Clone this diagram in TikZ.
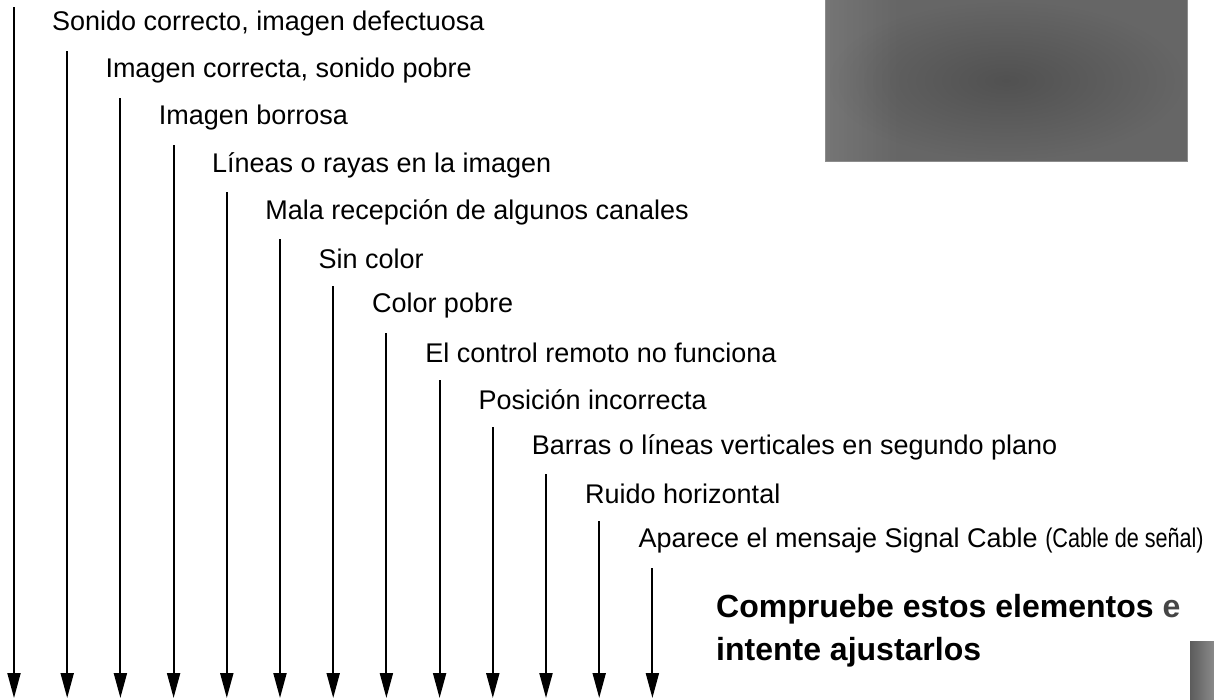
\documentclass[tikz,border=0pt]{standalone}
\usepackage{fontspec}
\setmainfont{Liberation Sans}
\usetikzlibrary{arrows.meta,fadings}
\definecolor{boxbase}{HTML}{666666}
\definecolor{boxdark}{HTML}{515151}
\definecolor{boxedge}{HTML}{8C8C8C}
\definecolor{bardark}{HTML}{5C5C5C}
\definecolor{barlight}{HTML}{8A8A8A}
\definecolor{softe}{HTML}{454545}
\tikzset{
  label/.style={anchor=west, inner sep=0pt, font=\fontsize{27}{32}\selectfont},
  arrowline/.style={line width=2pt, -{Triangle[length=25pt,width=13pt]}},
  boldtext/.style={anchor=west, inner sep=0pt, align=left, font=\fontsize{32}{43}\selectfont\bfseries},
}
\begin{document}
\begin{tikzpicture}[x=1pt,y=-1pt]
\useasboundingbox (0,0) rectangle (1214,699);
% gray picture box top right
\shade[inner color=boxdark, outer color=boxbase] (825,0) rectangle (1187,161);
\fill[white, opacity=0.10, path fading=east] (825,0) rectangle (900,161);
\draw[boxedge, line width=1pt] (825,-1) -- (825,161) -- (1187,161) -- (1187,-1);
% gray bar bottom right
\shade[left color=bardark, right color=barlight] (1190,641) rectangle (1214,699);
% labels
\foreach \i/\t in {
 0/{Sonido correcto, imagen defectuosa},
 1/{Imagen correcta, sonido pobre},
 2/{Imagen borrosa},
 3/{Líneas o rayas en la imagen},
 4/{Mala recepción de algunos canales},
 5/{Sin color},
 6/{Color pobre},
 7/{El control remoto no funciona},
 8/{Posición incorrecta},
 9/{Barras o líneas verticales en segundo plano},
 10/{Ruido horizontal},
 11/{Aparece el mensaje Signal Cable \scalebox{0.8}[1]{(Cable de señal)}}}
{
  \node[label] (t\i) at ({52+53.3*\i},{24+47*\i}) {\t};
}
% arrows
\coordinate (s0) at (14,7);
\coordinate (e0) at (14,698);
\draw[arrowline] (s0) -- (e0);
\foreach \i in {1,...,12}{
  \coordinate (s\i) at ({14+53.2*\i},{51+47*(\i-1)});
  \coordinate (e\i) at ({14+53.2*\i},698);
  \draw[arrowline] (s\i) -- (e\i);
}
% bold text
\node[boldtext] (b1) at (716,609) {Compruebe estos elementos {\color{softe}e}};
\node[boldtext] (b2) at (716,652) {intente ajustarlos};
\end{tikzpicture}
\end{document}
